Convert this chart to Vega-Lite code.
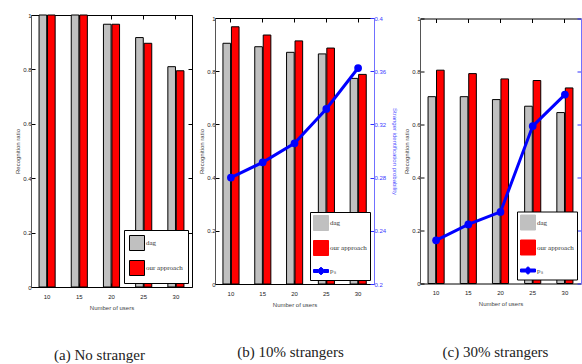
{
  "$schema": "https://vega.github.io/schema/vega-lite/v6.json",
  "background": "white",
  "padding": {"left": 14, "top": 12, "right": 0, "bottom": 0},
  "autosize": {"type": "pad"},
  "datasets": {
    "bars": [
      {"panel": "a", "users": "10", "method": "dag", "ratio": 1.0},
      {"panel": "a", "users": "15", "method": "dag", "ratio": 1.0},
      {"panel": "a", "users": "20", "method": "dag", "ratio": 0.966},
      {"panel": "a", "users": "25", "method": "dag", "ratio": 0.917},
      {"panel": "a", "users": "30", "method": "dag", "ratio": 0.81},
      {"panel": "a", "users": "10", "method": "our approach", "ratio": 1.0},
      {"panel": "a", "users": "15", "method": "our approach", "ratio": 1.0},
      {"panel": "a", "users": "20", "method": "our approach", "ratio": 0.966},
      {"panel": "a", "users": "25", "method": "our approach", "ratio": 0.896},
      {"panel": "a", "users": "30", "method": "our approach", "ratio": 0.795},
      {"panel": "b", "users": "10", "method": "dag", "ratio": 0.905},
      {"panel": "b", "users": "15", "method": "dag", "ratio": 0.892},
      {"panel": "b", "users": "20", "method": "dag", "ratio": 0.871},
      {"panel": "b", "users": "25", "method": "dag", "ratio": 0.865},
      {"panel": "b", "users": "30", "method": "dag", "ratio": 0.773},
      {"panel": "b", "users": "10", "method": "our approach", "ratio": 0.967},
      {"panel": "b", "users": "15", "method": "our approach", "ratio": 0.936},
      {"panel": "b", "users": "20", "method": "our approach", "ratio": 0.914},
      {"panel": "b", "users": "25", "method": "our approach", "ratio": 0.887},
      {"panel": "b", "users": "30", "method": "our approach", "ratio": 0.788},
      {"panel": "c", "users": "10", "method": "dag", "ratio": 0.705},
      {"panel": "c", "users": "15", "method": "dag", "ratio": 0.705},
      {"panel": "c", "users": "20", "method": "dag", "ratio": 0.694},
      {"panel": "c", "users": "25", "method": "dag", "ratio": 0.669},
      {"panel": "c", "users": "30", "method": "dag", "ratio": 0.645},
      {"panel": "c", "users": "10", "method": "our approach", "ratio": 0.805},
      {"panel": "c", "users": "15", "method": "our approach", "ratio": 0.792},
      {"panel": "c", "users": "20", "method": "our approach", "ratio": 0.772},
      {"panel": "c", "users": "25", "method": "our approach", "ratio": 0.766},
      {"panel": "c", "users": "30", "method": "our approach", "ratio": 0.738}
    ],
    "lines": [
      {"panel": "b", "users": "10", "prob": 0.28},
      {"panel": "b", "users": "15", "prob": 0.2915},
      {"panel": "b", "users": "20", "prob": 0.3058},
      {"panel": "b", "users": "25", "prob": 0.3316},
      {"panel": "b", "users": "30", "prob": 0.3624},
      {"panel": "c", "users": "10", "prob": 0.2326},
      {"panel": "c", "users": "15", "prob": 0.2446},
      {"panel": "c", "users": "20", "prob": 0.254},
      {"panel": "c", "users": "25", "prob": 0.3188},
      {"panel": "c", "users": "30", "prob": 0.3426}
    ]
  },
  "spacing": 5,
  "center": true,
  "resolve": {"scale": {"color": "independent"}, "legend": {"color": "independent"}},
  "hconcat": [
    {
      "width": 161,
      "height": 272,
      "title": {"text": "(a) No stranger", "dx": -12},
      "data": {"name": "bars"},
      "transform": [{"filter": "datum.panel == 'a'"}],
      "layer": [
        {
          "mark": {"type": "bar", "stroke": "black", "strokeWidth": 1},
          "encoding": {
            "x": {"field": "users", "type": "ordinal", "scale": {"paddingInner": 0.5, "paddingOuter": 0.25},
                  "axis": {"orient": "bottom", "labelAngle": 0, "title": "Number of users"}},
            "xOffset": {"field": "method", "sort": ["dag", "our approach"], "scale": {"paddingInner": 0.1}},
            "y": {"field": "ratio", "type": "quantitative", "scale": {"domain": [0, 1], "nice": false},
                  "axis": {"orient": "left", "values": [0, 0.2, 0.4, 0.6, 0.8, 1], "format": ".2~f", "title": "Recognition ratio", "domainColor": "#555"}},
            "color": {"field": "method", "type": "nominal",
                      "scale": {"domain": ["dag", "our approach"], "range": ["#c0c0c0", "#ff0000"]},
                      "legend": {"orient": "bottom-right", "padding": 5}}
          }
        },
        {
          "mark": {"type": "point", "opacity": 0},
          "encoding": {
            "x": {"field": "users", "type": "ordinal", "axis": {"orient": "top", "labels": false, "title": null}},
            "y": {"field": "ratio", "type": "quantitative",
                  "axis": {"orient": "right", "labels": false, "title": null, "values": [0, 0.2, 0.4, 0.6, 0.8, 1]}}
          }
        }
      ],
      "resolve": {"axis": {"x": "independent", "y": "independent"}}
    },
    {
      "width": 159,
      "height": 266,
      "title": {"text": "(b) 10% strangers", "dx": -4},
      "layer": [
        {
          "data": {"name": "bars"},
          "transform": [{"filter": "datum.panel == 'b'"}],
          "mark": {"type": "bar", "stroke": "black", "strokeWidth": 1},
          "encoding": {
            "x": {"field": "users", "type": "ordinal", "scale": {"paddingInner": 0.5, "paddingOuter": 0.25},
                  "axis": {"orient": "bottom", "labelAngle": 0, "title": "Number of users"}},
            "xOffset": {"field": "method", "sort": ["dag", "our approach"], "scale": {"paddingInner": 0.1}},
            "y": {"field": "ratio", "type": "quantitative", "scale": {"domain": [0, 1], "nice": false},
                  "axis": {"orient": "left", "values": [0, 0.2, 0.4, 0.6, 0.8, 1], "format": ".2~f", "title": "Recognition ratio", "domainColor": "#555"}},
            "color": {"field": "method", "type": "nominal",
                      "scale": {"domain": ["dag", "our approach", "pₛ"], "range": ["#c0c0c0", "#ff0000", "#0000ff"]},
                      "legend": {"orient": "bottom-right",
                                 "encode": {"symbols": {"update": {
                                   "shape": {"signal": "datum.value === 'pₛ' ? 'M-1,-0.2H-0.35L0,-0.5L0.35,-0.2H1V0.2H0.35L0,0.5L-0.35,0.2H-1Z' : 'square'"},
                                   "stroke": {"signal": "datum.value === 'pₛ' ? '#0000ff' : 'black'"}
                                 }}}}}
          }
        },
        {
          "data": {"name": "lines"},
          "transform": [{"filter": "datum.panel == 'b'"}],
          "mark": {"type": "line", "strokeWidth": 3, "point": {"filled": true, "size": 60}},
          "encoding": {
            "x": {"field": "users", "type": "ordinal", "axis": {"orient": "top", "labels": false, "title": null}},
            "y": {"field": "prob", "type": "quantitative", "scale": {"domain": [0.2, 0.4], "nice": false},
                  "axis": {"orient": "right", "values": [0.2, 0.24, 0.28, 0.32, 0.36, 0.4], "format": ".2~f",
                           "title": "Stranger identification probability", "titlePadding": 6, "domainColor": "#7070ff", "tickColor": "#3030ff",
                           "labelColor": "#3a3aff", "titleColor": "#5555ff"}},
            "color": {"datum": "pₛ"}
          }
        }
      ],
      "resolve": {"scale": {"y": "independent"}, "axis": {"x": "independent", "y": "independent"}}
    },
    {
      "width": 161,
      "height": 265,
      "title": {"text": "(c) 30% strangers", "dx": -5},
      "layer": [
        {
          "data": {"name": "bars"},
          "transform": [{"filter": "datum.panel == 'c'"}],
          "mark": {"type": "bar", "stroke": "black", "strokeWidth": 1},
          "encoding": {
            "x": {"field": "users", "type": "ordinal", "scale": {"paddingInner": 0.5, "paddingOuter": 0.25},
                  "axis": {"orient": "bottom", "labelAngle": 0, "title": "Number of users"}},
            "xOffset": {"field": "method", "sort": ["dag", "our approach"], "scale": {"paddingInner": 0.1}},
            "y": {"field": "ratio", "type": "quantitative", "scale": {"domain": [0, 1], "nice": false},
                  "axis": {"orient": "left", "values": [0, 0.2, 0.4, 0.6, 0.8, 1], "format": ".2~f", "title": "Recognition ratio", "domainColor": "#555"}},
            "color": {"field": "method", "type": "nominal",
                      "scale": {"domain": ["dag", "our approach", "pₛ"], "range": ["#c0c0c0", "#ff0000", "#0000ff"]},
                      "legend": {"orient": "bottom-right",
                                 "encode": {"symbols": {"update": {
                                   "shape": {"signal": "datum.value === 'pₛ' ? 'M-1,-0.2H-0.35L0,-0.5L0.35,-0.2H1V0.2H0.35L0,0.5L-0.35,0.2H-1Z' : 'square'"},
                                   "stroke": {"signal": "datum.value === 'pₛ' ? '#0000ff' : 'black'"}
                                 }}}}}
          }
        },
        {
          "data": {"name": "lines"},
          "transform": [{"filter": "datum.panel == 'c'"}],
          "mark": {"type": "line", "strokeWidth": 3, "point": {"filled": true, "size": 60}},
          "encoding": {
            "x": {"field": "users", "type": "ordinal", "axis": {"orient": "top", "labels": false, "title": null}},
            "y": {"field": "prob", "type": "quantitative", "scale": {"domain": [0.2, 0.4], "nice": false},
                  "axis": {"orient": "right", "values": [0.2, 0.24, 0.28, 0.32, 0.36, 0.4], "labels": false, "title": null,
                           "domainColor": "#7070ff", "tickColor": "#3030ff"}},
            "color": {"datum": "pₛ"}
          }
        }
      ],
      "resolve": {"scale": {"y": "independent"}, "axis": {"x": "independent", "y": "independent"}}
    }
  ],
  "config": {
    "view": {"stroke": null},
    "axis": {
      "labelFont": "Liberation Sans Narrow, Liberation Sans",
      "labelFontSize": 6,
      "labelColor": "#222",
      "titleFont": "Liberation Sans Narrow, Liberation Sans",
      "titleFontSize": 6,
      "titleFontWeight": "normal",
      "titleColor": "#444",
      "tickSize": -4,
      "tickColor": "black",
      "domainColor": "black",
      "grid": false
    },
    "axisX": {"labelPadding": 10, "titlePadding": 5},
    "axisY": {"labelPadding": 4, "titlePadding": 2},
    "title": {
      "orient": "bottom",
      "font": "Liberation Serif",
      "fontSize": 15,
      "fontWeight": "normal",
      "color": "#222",
      "offset": 38
    },
    "legend": {
      "title": null,
      "offset": 4,
      "padding": 3,
      "strokeColor": "black",
      "fillColor": "white",
      "symbolType": "square",
      "symbolSize": 225,
      "symbolStrokeColor": "black",
      "symbolStrokeWidth": 1,
      "symbolOpacity": 1,
      "labelFont": "Liberation Serif",
      "labelFontSize": 7,
      "labelColor": "#333",
      "labelOffset": 1,
      "rowPadding": 5
    }
  }
}
